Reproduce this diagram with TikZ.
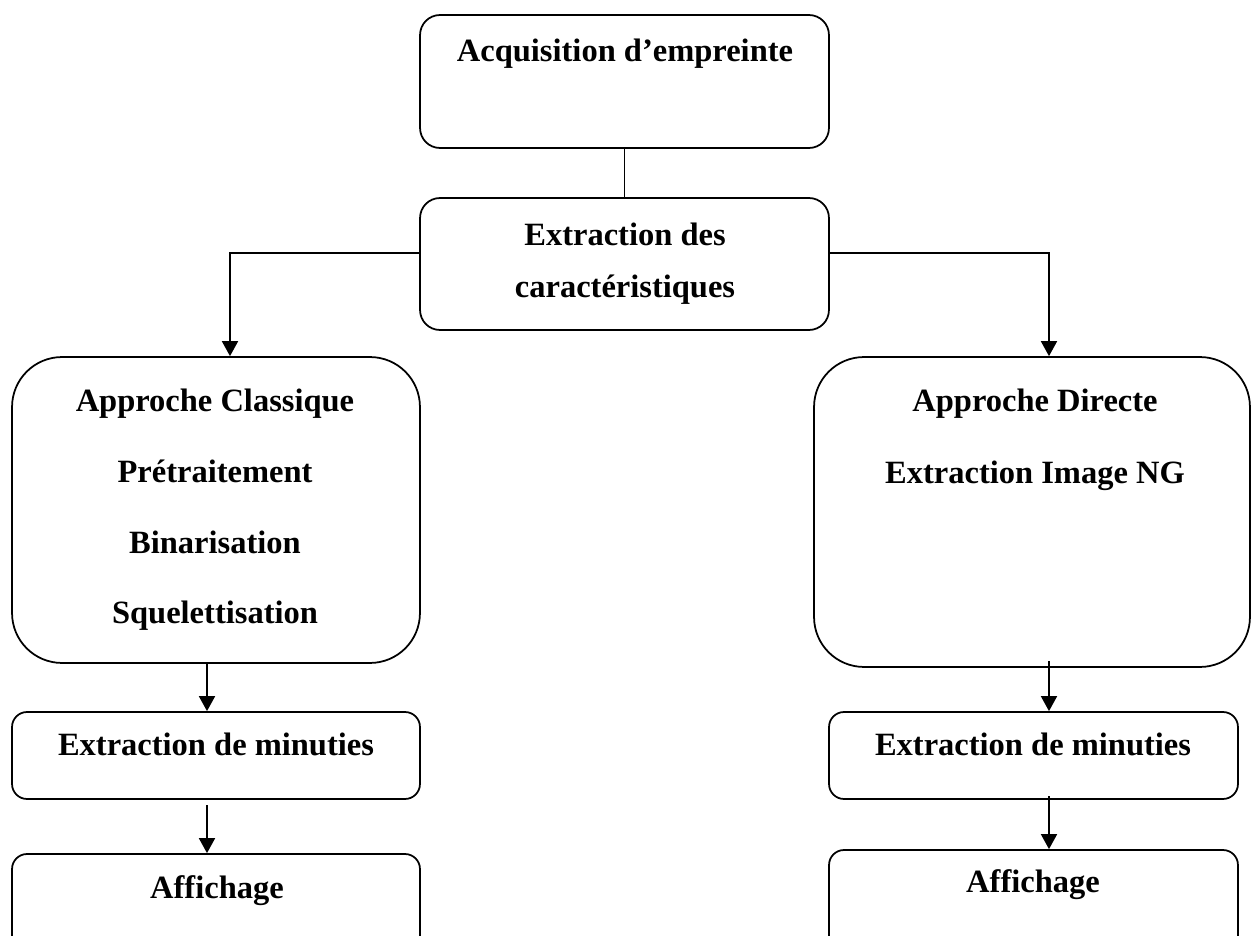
\documentclass[tikz,border=0pt]{standalone}
\usepackage{fontspec}
\setmainfont{Liberation Serif}
\usetikzlibrary{arrows.meta}

\begin{document}
\begin{tikzpicture}[x=0.02cm,y=-0.02cm,
  every node/.style={font=\fontsize{18.5}{22}\selectfont\bfseries},
  box/.style={draw,line width=1pt,rounded corners=0.4cm,inner sep=0pt},
  bigbox/.style={draw,line width=1pt,rounded corners=1cm,inner sep=0pt},
  smallbox/.style={draw,line width=1pt,rounded corners=0.3cm,inner sep=0pt},
  txt/.style={anchor=base,inner sep=0pt},
  arr/.style={-{Triangle[length=0.3cm,width=0.32cm]},line width=1pt}]
  \useasboundingbox (0,0) rectangle (1252,936);

  % boites
  \node[box,minimum width=8.18cm,minimum height=2.66cm] (acq) at (624.5,81.5) {};
  \node[box,minimum width=8.18cm,minimum height=2.64cm] (ext) at (624.5,264) {};
  \node[bigbox,minimum width=8.16cm,minimum height=6.12cm] (cla) at (216,510) {};
  \node[bigbox,minimum width=8.72cm,minimum height=6.2cm] (dir) at (1032,512) {};
  \node[smallbox,minimum width=8.16cm,minimum height=1.74cm] (minL) at (216,755.5) {};
  \node[smallbox,minimum width=8.16cm,minimum height=2.12cm] (affL) at (216,907) {};
  \node[smallbox,minimum width=8.18cm,minimum height=1.74cm] (minR) at (1033.5,755.5) {};
  \node[smallbox,minimum width=8.18cm,minimum height=2.2cm] (affR) at (1033.5,905) {};

  % textes
  \node[txt] (tacq) at (625,62) {Acquisition d’empreinte};
  \node[txt] (text1) at (625,245) {Extraction des};
  \node[txt] (text2) at (625,297) {caractéristiques};
  \node[txt] (tcla1) at (215,411) {Approche Classique};
  \node[txt] (tcla2) at (215,482) {Prétraitement};
  \node[txt] (tcla3) at (215,553) {Binarisation};
  \node[txt] (tcla4) at (215,623) {Squelettisation};
  \node[txt] (tdir1) at (1035,411) {Approche Directe};
  \node[txt] (tdir2) at (1035,483) {Extraction Image NG};
  \node[txt] (tminL) at (216,755) {Extraction de minuties};
  \node[txt] (tminR) at (1033,755) {Extraction de minuties};
  \node[txt] (taffL) at (217,898) {Affichage};
  \node[txt] (taffR) at (1033,892) {Affichage};

  % liaisons
  \draw[line width=1pt] (acq.south) -- (ext.north);
  \coordinate (splitL) at (230,253);
  \coordinate (splitR) at (1049,253);
  \draw[arr] (ext.west |- splitL) -- (splitL) -- (splitL |- cla.north);
  \draw[arr] (ext.east |- splitR) -- (splitR) -- (splitR |- dir.north);

  \coordinate (downL) at (207,663);
  \draw[arr] (downL) -- (downL |- minL.north);
  \coordinate (gapL) at (207,805);
  \draw[arr] (gapL) -- (gapL |- affL.north);
  \coordinate (downR) at (1049,661);
  \draw[arr] (downR) -- (downR |- minR.north);
  \coordinate (gapR) at (1049,796);
  \draw[arr] (gapR) -- (gapR |- affR.north);
\end{tikzpicture}
\end{document}
